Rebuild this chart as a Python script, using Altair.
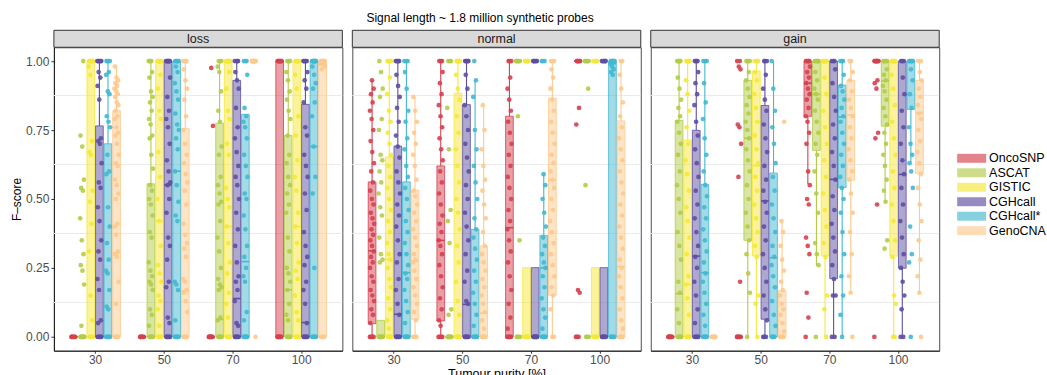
import altair as alt
import pandas as pd

methods = ["OncoSNP", "ASCAT", "GISTIC", "CGHcall", "CGHcall*", "GenoCNA"]
colors = ["#d5404f", "#b3cc48", "#f5e839", "#5e4fa2", "#43b8d0", "#fec98d"]
types = ["loss", "normal", "gain"]
purities = ["30", "50", "70", "100"]

# Box statistics (lower whisker, q1, median, q3, upper whisker); order: purity then method
loss_box = [
    (0, 0, 0, 0, 0), (0, 0, 0, 0, 0), (0, 0, 0, 1, 1), (0, 0, 0, 0.765, 1), (0, 0, 0, 0.70, 1), (0, 0, 0.305, 0.82, 0.985),
    (0, 0, 0, 0, 0), (0, 0, 0, 0.555, 1), (0, 0, 0.42, 1, 1), (0, 0, 0.551, 1, 1), (0, 0, 0.601, 1, 1), (0, 0, 0.167, 0.755, 1),
    (0, 0, 0, 0, 0), (0, 0, 0.063, 0.775, 1), (0, 0, 0.40, 1, 1), (0, 0, 0.139, 0.93, 1), (0, 0, 0.273, 0.807, 0.807), (1, 1, 1, 1, 1),
    (0, 0, 1, 1, 1), (0, 0, 0.171, 0.73, 1), (0, 0, 0.40, 1, 1), (0, 0, 0.052, 0.843, 1), (0, 0, 0.69, 1, 1), (0, 0, 0.99, 1, 1),
]
normal_box = [
    (0, 0.048, 0.312, 0.562, 0.93), (0, 0, 0, 0.06, 0.06), (0, 0, 0.281, 0.652, 1), (0, 0, 0.082, 0.692, 1), (0, 0, 0.233, 0.562, 1), (0, 0.064, 0.275, 0.531, 0.867),
    (0, 0.058, 0.35, 0.62, 1), (0, 0, 0, 0, 0), (0, 0, 0, 0.883, 1), (0, 0, 0.118, 0.842, 1), (0, 0, 0, 0.39, 0.93), (0, 0, 0.086, 0.33, 0.84),
    (0, 0, 0.396, 0.80, 1), (1, 1, 1, 1, 1), (0, 0, 0, 0.251, 0.251), (0, 0, 0, 0.251, 0.251), (0, 0, 0.25, 0.368, 0.59), (0, 0.151, 0.568, 0.865, 1),
    (1, 1, 1, 1, 1), (1, 1, 1, 1, 1), (0, 0, 0, 0.251, 0.251), (0, 0, 0, 0.251, 0.251), (0, 0, 0.99, 1, 1), (0, 0, 0.255, 0.783, 1),
]
gain_box = [
    (0, 0, 0, 0, 0), (0, 0, 0.157, 0.785, 1), (0, 0, 0.19, 0.713, 1), (0, 0, 0.293, 0.749, 1), (0, 0, 0.233, 0.553, 1), (0, 0, 0, 0, 0),
    (0, 0, 0, 0, 0), (0, 0.35, 0.72, 0.93, 1), (0, 0.293, 0.62, 0.964, 1), (0, 0.064, 0.493, 0.839, 1), (0, 0, 0.287, 0.594, 1), (0, 0, 0, 0.167, 0.42),
    (0.553, 0.80, 0.92, 1, 1), (0.257, 0.676, 0.88, 1, 1), (0, 0.293, 1, 1, 1), (0, 0.211, 0.571, 1, 1), (0, 0.541, 0.797, 0.913, 1), (0.157, 0.568, 0.804, 0.93, 1),
    (1, 1, 1, 1, 1), (0.487, 0.764, 0.928, 1, 1), (0, 0.293, 1, 1, 1), (0, 0.249, 0.589, 1, 1), (0.63, 0.825, 1, 1, 1), (0.157, 0.593, 0.813, 0.93, 1),
]

# Individual F-scores per group ("v*n" = value v repeated n times)
loss_pts = [
    "0*6",
    "0*8 0.04 0.19 0.24 0.26 0.30 0.35 0.43 0.53 0.54 0.57 0.69 0.73 1",
    "0*5 0.06 0.15 0.31 0.41 0.49 0.53 0.66 0.67 0.71 0.95 0.98 1*8",
    "0*5 0.05 0.06 0.17 0.21 0.28 0.31 0.35 0.42 0.47 0.54 0.56 0.63 0.70 0.71 0.72 0.86 0.91 0.94 0.96 1*6",
    "0*5 0.1 0.11 0.17 0.23 0.24 0.28 0.34 0.40 0.47 0.59 0.60 0.66 0.76 0.78 0.80 0.88 0.89 0.95 0.96 1*4",
    "0*4 0.12 0.20 0.29 0.30 0.31 0.37 0.40 0.41 0.50 0.52 0.55 0.57 0.62 0.63 0.66 0.70 0.73 0.74 0.76 0.79 0.80 0.82 0.84 0.85 0.87 0.88 0.89 0.90 0.91 0.92 0.93 0.94 0.98",
    "0*6",
    "0*6 0.04 0.08 0.1 0.17 0.19 0.2 0.22 0.24 0.27 0.36 0.38 0.44 0.48 0.5 0.53 0.55 0.61 0.66 0.72 0.73 0.77 0.79 0.82 0.85 0.87 0.89 0.94 0.96 1*4",
    "0*6 0.04 0.1 0.13 0.15 0.2 0.23 0.26 0.33 0.42 0.5 0.58 0.67 0.79 0.82 0.9 0.95 1*8",
    "0*6 0.05 0.07 0.18 0.2 0.28 0.33 0.36 0.45 0.5 0.55 0.56 0.6 0.64 0.7 0.76 0.79 0.82 0.87 0.94 1*8",
    "0*6 0.06 0.17 0.19 0.2 0.42 0.44 0.49 0.55 0.6 0.68 0.72 0.75 0.77 0.81 0.86 0.89 0.92 0.96 0.98 1*5",
    "0*5 0.09 0.13 0.16 0.17 0.2 0.21 0.29 0.32 0.34 0.37 0.41 0.48 0.53 0.56 0.59 0.63 0.66 0.7 0.75 0.8 0.86 0.9 0.93 0.97 1*4",
    "0*8 0.765 0.975",
    "0*6 0.06 0.07 0.17 0.18 0.19 0.21 0.25 0.31 0.36 0.42 0.48 0.49 0.52 0.55 0.58 0.66 0.69 0.78 0.82 0.89 0.96 0.98 1*3",
    "0*6 0.07 0.12 0.16 0.23 0.27 0.34 0.4 0.47 0.5 0.54 0.66 0.7 0.79 0.82 0.9 0.96 1*8",
    "0*6 0.04 0.05 0.13 0.17 0.2 0.22 0.27 0.33 0.39 0.45 0.5 0.55 0.58 0.62 0.67 0.72 0.76 0.83 0.9 0.93 0.96 1*4",
    "0*6 0.06 0.09 0.2 0.22 0.25 0.29 0.33 0.39 0.44 0.5 0.52 0.58 0.62 0.66 0.72 0.76 0.78 0.8 0.83 0.95 1*3",
    "0 1*10",
    "0*8 1*8",
    "0*5 0.06 0.08 0.12 0.17 0.2 0.23 0.25 0.31 0.36 0.45 0.48 0.52 0.55 0.58 0.63 0.66 0.73 0.79 0.82 0.86 0.89 0.93 0.96 1*4",
    "0*5 0.06 0.09 0.15 0.21 0.24 0.27 0.34 0.4 0.45 0.53 0.58 0.64 0.73 0.8 0.9 0.95 1*6",
    "0*6 0.05 0.12 0.17 0.2 0.26 0.29 0.33 0.38 0.46 0.52 0.58 0.62 0.66 0.73 0.76 0.85 0.9 0.93 0.96 1*5",
    "0*5 0.25 0.52 0.58 0.69 0.8 0.85 0.9 0.92 0.95 0.98 1*10",
    "0*4 0.97 0.98 0.99*6 1*8",
]
normal_pts = [
    "0*5 0.05 0.08 0.1 0.13 0.15 0.17 0.2 0.22 0.25 0.27 0.29 0.31 0.33 0.35 0.37 0.39 0.41 0.43 0.45 0.48 0.5 0.53 0.56 0.6 0.63 0.67 0.71 0.75 0.79 0.82 0.85 0.88 0.9 0.93",
    "0*8 0.27 0.28 0.3 0.36 0.44 0.47 0.52 0.56 0.6 0.64 0.66 0.75 0.79 0.87 0.9 0.96 1",
    "0*6 0.03 0.06 0.1 0.14 0.18 0.21 0.25 0.28 0.3 0.34 0.38 0.42 0.46 0.5 0.54 0.58 0.62 0.66 0.7 0.74 0.78 0.82 0.88 0.94 1*5",
    "0*6 0.08 0.12 0.17 0.21 0.27 0.3 0.35 0.4 0.44 0.48 0.52 0.56 0.6 0.65 0.69 0.73 0.78 0.83 0.87 0.91 0.95 1*5",
    "0*6 0.05 0.09 0.13 0.17 0.21 0.23 0.26 0.3 0.34 0.38 0.42 0.46 0.5 0.54 0.58 0.62 0.68 0.72 0.78 0.82 0.9 0.96 1*3",
    "0*3 0.06 0.09 0.12 0.15 0.18 0.21 0.24 0.27 0.28 0.3 0.33 0.36 0.39 0.42 0.45 0.48 0.51 0.53 0.57 0.62 0.66 0.7 0.74 0.78 0.82 0.87",
    "0*4 0.04 0.06 0.1 0.14 0.18 0.22 0.26 0.3 0.33 0.35 0.38 0.41 0.44 0.48 0.52 0.56 0.6 0.64 0.68 0.72 0.76 0.8 0.84 0.88 0.92 0.96 1*3",
    "0*8 0.08 0.1 0.34 0.42 0.46 0.68 0.83 1*3",
    "0*5 0.08 0.13 0.2 0.27 0.33 0.39 0.45 0.5 0.56 0.62 0.68 0.74 0.8 0.86 0.9 0.95 1*6",
    "0*6 0.12 0.13 0.2 0.24 0.3 0.35 0.4 0.45 0.5 0.55 0.6 0.65 0.7 0.75 0.8 0.84 0.9 0.95 1*5",
    "0*6 0.04 0.08 0.12 0.16 0.2 0.24 0.28 0.32 0.36 0.39 0.43 0.5 0.56 0.62 0.68 0.75 0.87 0.93 1",
    "0*6 0.03 0.06 0.09 0.12 0.15 0.18 0.21 0.24 0.27 0.3 0.33 0.38 0.43 0.48 0.53 0.57 0.62 0.68 0.75 0.84",
    "0*5 0.03 0.07 0.12 0.17 0.22 0.27 0.31 0.35 0.39 0.42 0.46 0.5 0.54 0.58 0.62 0.66 0.7 0.74 0.78 0.82 0.86 0.9 0.94 1*3",
    "0*4 0.35 0.8 1*6",
    "0*8 1*6",
    "0*8 1*6",
    "0*6 0.03 0.07 0.1 0.14 0.18 0.22 0.25 0.27 0.3 0.33 0.36 0.4 0.45 0.5 0.55 0.59 1*3",
    "0*2 0.1 0.15 0.18 0.22 0.26 0.3 0.34 0.38 0.42 0.46 0.5 0.54 0.57 0.6 0.63 0.66 0.7 0.74 0.78 0.82 0.86 0.9 0.94 0.97 1*3",
    "0*3 0.16 0.17 0.77 0.83 1*6",
    "0*3 0.55 0.9 1*5",
    "0*6 1*6",
    "0*6 1*6",
    "0*5 0.95 0.96 0.97 0.98 0.99 1*8",
    "0*5 0.03 0.06 0.1 0.14 0.18 0.22 0.25 0.28 0.32 0.36 0.4 0.44 0.48 0.52 0.56 0.6 0.64 0.68 0.72 0.76 0.8 0.85 0.9 0.95 1*2",
]
gain_pts = [
    "0*8",
    "0*5 0.05 0.1 0.16 0.2 0.28 0.33 0.38 0.45 0.5 0.55 0.6 0.66 0.7 0.74 0.78 0.8 0.83 0.86 0.9 0.94 1*5",
    "0*5 0.08 0.14 0.19 0.22 0.3 0.36 0.42 0.47 0.53 0.59 0.64 0.7 0.76 0.82 0.88 0.93 1*5",
    "0*5 0.05 0.1 0.15 0.2 0.25 0.29 0.33 0.38 0.43 0.48 0.53 0.58 0.63 0.68 0.73 0.78 0.84 0.88 0.92 0.96 1*4",
    "0*5 0.04 0.08 0.12 0.16 0.2 0.23 0.27 0.31 0.35 0.39 0.43 0.47 0.51 0.55 0.6 0.66 0.72 0.79 0.85 0.92 1*3",
    "0*6",
    "0*6 0.2 0.58 0.7 0.76 0.77 0.97 0.98 1*2",
    "0 0.16 0.23 0.3 0.35 0.4 0.45 0.5 0.55 0.6 0.64 0.68 0.72 0.75 0.78 0.81 0.84 0.87 0.9 0.93 0.96 1*4",
    "0 0.12 0.15 0.29 0.33 0.38 0.43 0.48 0.53 0.58 0.63 0.68 0.73 0.78 0.83 0.88 0.93 0.96 1*4",
    "0*3 0.06 0.1 0.15 0.2 0.25 0.3 0.35 0.4 0.45 0.49 0.53 0.57 0.62 0.67 0.72 0.77 0.82 0.86 0.9 0.95 1*3",
    "0*4 0.04 0.08 0.13 0.18 0.22 0.26 0.29 0.33 0.38 0.43 0.48 0.53 0.58 0.63 0.7 0.76 0.82 0.9 1",
    "0*5 0.02 0.05 0.08 0.1 0.12 0.15 0.17 0.2 0.24 0.28 0.33 0.38 0.42 0.78",
    "0 0.07 0.16 0.3 0.33 0.36 0.48 0.5 0.55 0.6 0.7 0.74 0.78 0.8 0.83 0.86 0.88 0.9 0.92 0.94 0.96 0.98 1*6",
    "0 0.26 0.3 0.34 0.45 0.52 0.6 0.66 0.7 0.74 0.78 0.82 0.86 0.88 0.9 0.93 0.96 1*6",
    "0 0.1 0.15 0.29 0.34 0.4 0.46 0.52 0.58 0.64 0.7 0.76 0.82 0.88 0.94 1*6",
    "0*2 0.15 0.15 0.21 0.26 0.31 0.36 0.41 0.46 0.51 0.57 0.62 0.67 0.72 0.77 0.82 0.87 0.92 0.97 1*3",
    "0 0.08 0.15 0.22 0.3 0.38 0.45 0.5 0.54 0.58 0.62 0.66 0.7 0.74 0.78 0.8 0.83 0.86 0.89 0.91 0.95 1*3",
    "0 0.16 0.22 0.3 0.38 0.45 0.52 0.57 0.6 0.64 0.68 0.72 0.76 0.8 0.83 0.86 0.89 0.93 0.96 1*2",
    "0 0.48 0.72 0.74 0.9 0.92 0.93 1*8",
    "0.32 0.35 0.49 0.53 0.57 0.62 0.66 0.7 0.74 0.77 0.8 0.83 0.86 0.89 0.91 0.93 0.95 0.97 1*5",
    "0*2 0.12 0.15 0.29 0.35 0.42 0.48 0.54 0.6 0.66 0.72 0.78 0.84 0.9 0.95 1*6",
    "0*2 0.1 0.15 0.2 0.25 0.3 0.36 0.42 0.48 0.54 0.59 0.64 0.7 0.76 0.82 0.88 0.94 1*3",
    "0 0.27 0.3 0.4 0.54 0.6 0.63 0.66 0.7 0.76 0.83 0.88 0.93 0.97 1*6",
    "0 0.16 0.22 0.28 0.35 0.42 0.48 0.54 0.59 0.63 0.67 0.71 0.75 0.79 0.81 0.84 0.87 0.9 0.93 0.96 1*2",
]
minor_grid = [0.125, 0.375, 0.625, 0.875]

boxes_by_type = {"loss": loss_box, "normal": normal_box, "gain": gain_box}
pts_by_type = {"loss": loss_pts, "normal": normal_pts, "gain": gain_pts}

DODGE = 0.125
HALF = 0.056
JIT = 0.032


def parse(s):
    out = []
    for tok in s.split():
        if "*" in tok:
            v, n = tok.split("*")
            out += [float(v)] * int(n)
        else:
            out.append(float(tok))
    return out


box_rows, pt_rows = [], []
for t in types:
    for gi, p in enumerate(purities):
        for mi, m in enumerate(methods):
            k = gi * 6 + mi
            lo, q1, med, q3, hi = boxes_by_type[t][k]
            pos = gi + (mi - 2.5) * DODGE
            box_rows.append(dict(type=t, method=m, pos=pos, left=pos - HALF, right=pos + HALF,
                                 lo=lo, q1=q1, med=med, q3=q3, hi=hi))
            for i, v in enumerate(parse(pts_by_type[t][k])):
                frac = (i * 0.6180339887 + mi * 0.37) % 1.0
                pt_rows.append(dict(type=t, method=m, xj=pos + (frac - 0.5) * 2 * JIT, value=v))

boxes = pd.DataFrame(box_rows)
points = pd.DataFrame(pt_rows)
grid = pd.DataFrame({"g": minor_grid})

W, H = 289, 304
xscale = alt.Scale(domain=[-0.6, 3.6], nice=False, zero=False)
yscale = alt.Scale(domain=[-0.05, 1.05], nice=False, zero=False)
cscale = alt.Scale(domain=methods, range=colors)


def panel(t, idx):
    b = alt.Data(values=boxes[boxes.type == t].to_dict("records"))
    pdat = alt.Data(values=points[points.type == t].to_dict("records"))
    xaxis = alt.Axis(values=[0, 1, 2, 3], labelExpr="['30','50','70','100'][datum.value]",
                     grid=False, title="Tumour purity [%]" if idx == 1 else None,
                     domainColor="#1a1a1a", tickColor="#333333", tickSize=2.5,
                     labelColor="#4d4d4d", labelFontSize=12, labelPadding=1,
                     titleFontSize=12.5, titleFontWeight="normal", titleColor="#000000",
                     titlePadding=2)
    if idx == 0:
        yaxis = alt.Axis(values=[0, 0.25, 0.5, 0.75, 1], format=".2f", grid=False,
                         title="F–score", domainColor="#1a1a1a", tickColor="#333333",
                         tickSize=3, labelColor="#4d4d4d", labelFontSize=12,
                         titleFontSize=12, titleFontWeight="normal", titleColor="#000000",
                         titlePadding=2)
    else:
        yaxis = None
    gl = alt.Chart(grid).mark_rule(color="#ebebeb", strokeWidth=1).encode(
        y=alt.Y("g:Q", scale=yscale, axis=yaxis))
    whisk_lo = alt.Chart(b).mark_rule(strokeWidth=1.1).encode(
        x=alt.X("pos:Q", scale=xscale, axis=xaxis),
        y=alt.Y("lo:Q", scale=yscale), y2="q1:Q",
        stroke=alt.Stroke("method:N", scale=cscale, legend=None))
    whisk_hi = alt.Chart(b).mark_rule(strokeWidth=1.1).encode(
        x=alt.X("pos:Q", scale=xscale), y=alt.Y("q3:Q", scale=yscale), y2="hi:Q",
        stroke=alt.Stroke("method:N", scale=cscale, legend=None))
    bx = alt.Chart(b).mark_rect(fillOpacity=0.5, strokeWidth=0.8).encode(
        x=alt.X("left:Q", scale=xscale), x2="right:Q",
        y=alt.Y("q1:Q", scale=yscale), y2="q3:Q",
        fill=alt.Fill("method:N", scale=cscale, legend=None),
        stroke=alt.Stroke("method:N", scale=cscale, legend=None))
    md = alt.Chart(b).mark_rule(strokeWidth=1.6).encode(
        x=alt.X("left:Q", scale=xscale), x2="right:Q",
        y=alt.Y("med:Q", scale=yscale),
        stroke=alt.Stroke("method:N", scale=cscale, legend=None))
    pts = alt.Chart(pdat).mark_circle(size=22, opacity=0.9).encode(
        x=alt.X("xj:Q", scale=xscale), y=alt.Y("value:Q", scale=yscale),
        fill=alt.Fill("method:N", scale=cscale, legend=None))
    strip_df = pd.DataFrame({"label": [t]})
    strip = alt.Chart(strip_df).mark_rect(fill="#d9d9d9", stroke="#333333", strokeWidth=1).encode(
        x=alt.value(0), x2=alt.value(W), y=alt.value(-17), y2=alt.value(0))
    strip_txt = alt.Chart(strip_df).mark_text(fontSize=12.5, color="#1a1a1a",
                                              font="Liberation Sans", baseline="middle").encode(
        text="label:N", x=alt.value(W / 2), y=alt.value(-8.5))
    return alt.layer(gl, whisk_lo, whisk_hi, bx, md, pts, strip, strip_txt).properties(
        width=W, height=H)


# Legend drawn as a small chart of its own (keys on a band scale)
leg_df = pd.DataFrame({"method": methods})
leg_y = alt.Y("method:N", scale=alt.Scale(domain=methods, range=[104, 191],
                                          paddingInner=0, paddingOuter=0), axis=None)
leg_keys = alt.Chart(leg_df).mark_rect(height=9, width=29, opacity=0.65).encode(
    x=alt.value(14.5), y=leg_y,
    fill=alt.Fill("method:N", scale=cscale, legend=None))
leg_text = alt.Chart(leg_df).mark_text(align="left", baseline="middle", fontSize=12.5,
                                       color="#000000", font="Liberation Sans").encode(
    x=alt.value(32), y=leg_y, text="method:N")
legend_chart = alt.layer(leg_keys, leg_text).properties(
    width=60, height=H, view=alt.ViewBackground(stroke="transparent"))

panels = alt.hconcat(*[panel(t, i) for i, t in enumerate(types)], spacing=8)

chart = alt.hconcat(panels, legend_chart, spacing=16).resolve_scale(
    fill="shared", stroke="shared"
).properties(
    title=alt.Title("Signal length ~ 1.8 million synthetic probes", fontSize=12,
                    fontWeight="normal", color="#000000", anchor="start", offset=4, dx=357),
    padding={"left": 10, "top": 12, "right": 0, "bottom": 0},
).configure(font="Liberation Sans").configure_view(stroke="#4d4d4d", strokeWidth=1)

chart.save("out.html", embed_options={"renderer": "svg", "actions": False})
